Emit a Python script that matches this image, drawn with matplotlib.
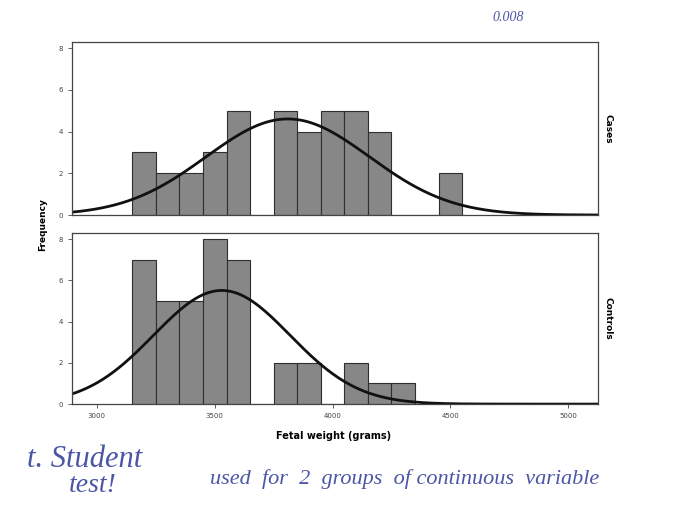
import numpy as np
import matplotlib.pyplot as plt

# histogram bins (grams), width 100
bin_left = [3150, 3250, 3350, 3450, 3550, 3650, 3750, 3850, 3950, 4050,
            4150, 4250, 4350, 4450]
cases = [3, 2, 2, 3, 5, 0, 5, 4, 5, 5, 4, 0, 0, 2]
controls = [7, 5, 5, 8, 7, 0, 2, 2, 0, 2, 1, 1, 0, 0]
bin_width = 100

x_ticks = [3000, 3500, 4000, 4500, 5000]
y_ticks = [0, 2, 4, 6, 8]

BAR = "#878787"
INK = "#4b56a6"


def normal_curve(counts):
    centers = np.array(bin_left) + bin_width / 2
    counts = np.array(counts)
    n = counts.sum()
    mean = (centers * counts).sum() / n
    sd = np.sqrt(((centers - mean) ** 2 * counts).sum() / (n - 1))
    xs = np.linspace(2890, 5130, 400)
    ys = n * bin_width / (sd * np.sqrt(2 * np.pi)) * np.exp(-0.5 * ((xs - mean) / sd) ** 2)
    return xs, ys


def panel(ax, counts, label, show_x):
    ax.bar(bin_left, counts, width=bin_width, align="edge",
           color=BAR, edgecolor="#2e2e2e", linewidth=0.8)
    xs, ys = normal_curve(counts)
    ax.plot(xs, ys, color="#111111", linewidth=2)
    ax.set_xlim(2895, 5125)
    ax.set_ylim(0, 8.3)
    ax.set_yticks(y_ticks)
    ax.tick_params(axis="y", labelsize=5, length=3, width=0.6, colors="#444444")
    if show_x:
        ax.set_xticks(x_ticks)
        ax.tick_params(axis="x", labelsize=5, length=3, width=0.6, colors="#444444")
    else:
        ax.set_xticks([])
    for s in ax.spines.values():
        s.set_color("#444444")
        s.set_linewidth(0.9)
    ax.text(1.012, 0.5, label, transform=ax.transAxes, rotation=-90,
            ha="left", va="center", fontsize=6.5, fontweight="bold")


fig = plt.figure(figsize=(6.87, 5.31), dpi=100)
ax_top = fig.add_axes([0.105, 0.595, 0.765, 0.326])
ax_bot = fig.add_axes([0.105, 0.239, 0.765, 0.322])

panel(ax_top, cases, "Cases", False)
panel(ax_bot, controls, "Controls", True)

fig.text(0.062, 0.578, "Frequency", rotation=90, ha="center", va="center",
         fontsize=6.5, fontweight="bold")
fig.text(0.485, 0.178, "Fetal weight (grams)", ha="center", va="center",
         fontsize=7, fontweight="bold")

# pen notes on the printout
pen = dict(color=INK, style="italic", family="Liberation Serif")
fig.text(0.74, 0.967, "0.008", ha="center", va="center", fontsize=10, **pen)
fig.text(0.04, 0.135, "t. Student", ha="left", va="center", fontsize=22, **pen)
fig.text(0.1, 0.085, "test!", ha="left", va="center", fontsize=20, **pen)
fig.text(0.305, 0.098, "used  for  2  groups  of continuous  variable",
         ha="left", va="center", fontsize=16, **pen)

fig.savefig("out.png", dpi=100)
